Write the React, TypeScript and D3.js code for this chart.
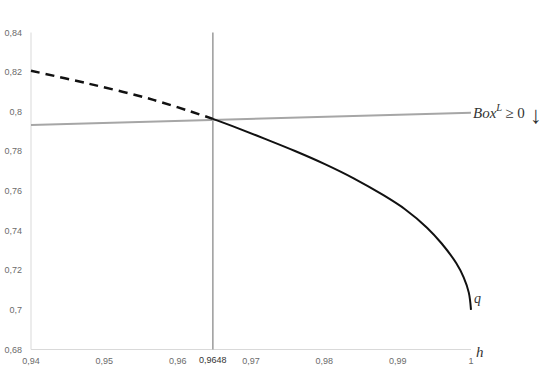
import React from "react";
import * as d3 from "d3";

const xTicks = [0.94, 0.95, 0.96, 0.97, 0.98, 0.99, 1];
const yTicks = [0.68, 0.7, 0.72, 0.74, 0.76, 0.78, 0.8, 0.82, 0.84];
const hStar = 0.9648;

// dashed part of q (h < 0.9648)
const dashedH = [0.94, 0.9476, 0.9567, 0.9648];
const dashedQ = [0.8207, 0.8144, 0.806, 0.7964];

// solid part of q (h >= 0.9648)
const solidH = [0.9648, 0.968, 0.972, 0.976, 0.98, 0.984, 0.988, 0.991, 0.994, 0.996, 0.998, 0.999, 0.9997, 1.0];
const solidQ = [0.7964, 0.792, 0.7862, 0.7802, 0.7737, 0.7664, 0.758, 0.7508, 0.7415, 0.7335, 0.7235, 0.7164, 0.7087, 0.7];

// Box^L >= 0 boundary line
const boxH = [0.94, 1.0];
const boxQ = [0.7933, 0.7995];

const W = 542;
const H = 386;

export default function App() {
  const x = d3.scaleLinear().domain([0.94, 1]).range([31, 471]);
  const y = d3.scaleLinear().domain([0.68, 0.84]).range([349.5, 32.5]);
  const fmt = (v: number) => String(+v.toFixed(4)).replace(".", ",");

  const line = d3
    .line<[number, number]>()
    .x((d) => x(d[0]))
    .y((d) => y(d[1]))
    .curve(d3.curveCatmullRom.alpha(0.5));

  const dashed = dashedH.map((h, i) => [h, dashedQ[i]] as [number, number]);
  const solid = solidH.map((h, i) => [h, solidQ[i]] as [number, number]);
  const box = boxH.map((h, i) => [h, boxQ[i]] as [number, number]);

  const tickFont = "'Liberation Sans Narrow', 'Liberation Sans', sans-serif";
  const mathFont = "'Liberation Serif', 'DejaVu Serif', serif";

  return (
    <svg
      width={W}
      height={H}
      style={{ position: "absolute", left: 0, top: 0, background: "#fff" }}
    >
      {/* axes */}
      <line x1={x(0.94)} x2={x(0.94)} y1={y(0.84)} y2={y(0.68)} stroke="#d9d9d9" strokeWidth={1} />
      <line x1={x(0.94)} x2={x(1)} y1={y(0.68)} y2={y(0.68)} stroke="#d9d9d9" strokeWidth={1} />

      {yTicks.map((t) => (
        <text
          key={"y" + t}
          x={22}
          y={y(t)}
          textAnchor="end"
          dominantBaseline="central"
          fontSize={9}
          fontFamily={tickFont}
          fill="#6b6b6b"
        >
          {fmt(t)}
        </text>
      ))}
      {xTicks.map((t) => (
        <text
          key={"x" + t}
          x={x(t)}
          y={361}
          textAnchor="middle"
          dominantBaseline="central"
          fontSize={9}
          fontFamily={tickFont}
          fill="#6b6b6b"
        >
          {fmt(t)}
        </text>
      ))}
      <text
        x={x(hStar)}
        y={359.5}
        textAnchor="middle"
        dominantBaseline="central"
        fontSize={9}
        fontFamily={tickFont}
        fill="#333"
      >
        {fmt(hStar)}
      </text>

      {/* vertical line at h* */}
      <line x1={x(hStar)} x2={x(hStar)} y1={y(0.84)} y2={y(0.68)} stroke="#9a9a9a" strokeWidth={1.5} />

      {/* Box boundary */}
      <path d={line(box) || ""} fill="none" stroke="#a6a6a6" strokeWidth={2} />

      {/* q curve */}
      <path d={line(dashed) || ""} fill="none" stroke="#111" strokeWidth={2.5} strokeDasharray="9 6" />
      <path d={line(solid) || ""} fill="none" stroke="#111" strokeWidth={2} />

      {/* math labels */}
      <text x={473} y={118} fontSize={15} fontFamily={mathFont} fill="#333">
        <tspan fontStyle="italic">Box</tspan>
        <tspan fontStyle="italic" fontSize={10.5} dy={-7}>L</tspan>
        <tspan dy={7} dx={3}>≥ 0</tspan>
      </text>
      <text x={536} y={123} fontSize={24} textAnchor="middle" fontFamily={mathFont} fill="#333">
        ↓
      </text>
      <text x={474} y={303} fontSize={14} fontStyle="italic" fontFamily={mathFont} fill="#333">
        q
      </text>
      <text x={476} y={357} fontSize={15} fontStyle="italic" fontFamily={mathFont} fill="#333">
        h
      </text>
    </svg>
  );
}
